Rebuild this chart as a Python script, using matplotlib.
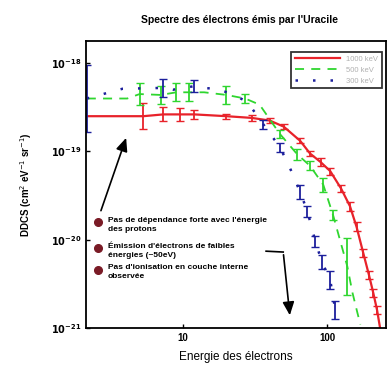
import matplotlib
matplotlib.use("Agg")
import matplotlib.pyplot as plt
import numpy as np

plt.rcParams["font.family"] = ["Liberation Sans", "DejaVu Sans"]

# --- data (energy in eV, DDCS in cm2/eV/sr) ---
e_red = [2.15, 5.3, 7.3, 9.5, 12, 20, 30, 40, 50, 65, 76, 90, 105, 125, 144, 160, 178, 195, 209, 222, 233]
y_red = [2.51e-19, 2.51e-19, 2.63e-19, 2.63e-19, 2.63e-19, 2.51e-19, 2.40e-19, 2.24e-19, 1.91e-19,
         1.32e-19, 9.5e-20, 7.6e-20, 6.0e-20, 3.8e-20, 2.4e-20, 1.4e-20, 7.1e-21, 4.0e-21,
         2.5e-21, 1.6e-21, 1.0e-21]
err_red = [0, 0.15, 0.08, 0.07, 0.05, 0.03, 0.03, 0.03, 0.03, 0.03, 0.03, 0.04, 0.04, 0.04,
           0.05, 0.05, 0.05, 0.05, 0.05, 0.05, 0]

e_green = [2.15, 4.1, 5.0, 7.0, 9.0, 11, 14, 20, 27, 34, 47, 62, 76, 94, 110, 138, 150, 162, 170]
y_green = [3.98e-19, 3.98e-19, 4.47e-19, 4.37e-19, 4.68e-19, 4.68e-19, 4.68e-19, 4.37e-19,
           3.98e-19, 3.39e-19, 1.58e-19, 9.3e-20, 6.9e-20, 4.2e-20, 1.9e-20, 5.0e-21,
           2.5e-21, 1.5e-21, 1.1e-21]
err_green = [0, 0, 0.12, 0.1, 0.1, 0.1, 0, 0.1, 0.05, 0, 0.05, 0.06, 0.05, 0.08, 0.06, 0.32, 0, 0, 0]

e_blue = [2.15, 3.8, 7.3, 8.5, 12, 13.5, 17, 22, 28, 36, 47, 55, 65, 73, 83, 92, 105, 114]
y_blue = [3.98e-19, 5.13e-19, 5.25e-19, 5.0e-19, 5.5e-19, 5.25e-19, 5.13e-19, 4.47e-19,
          3.63e-19, 2.04e-19, 1.12e-19, 6.6e-20, 3.47e-20, 2.09e-20, 9.5e-21, 5.6e-21,
          3.5e-21, 1.6e-21]
err_blue = [0.38, 0, 0.1, 0, 0.07, 0, 0, 0, 0, 0.05, 0.05, 0, 0.08, 0.06, 0.06, 0.08, 0.1, 0.1]

labels = ["1000 keV", "500 keV", "300 keV"]
colors = ["#e8222a", "#2fd62f", "#1c1f9c"]

yticks = [1e-21, 1e-20, 1e-19, 1e-18]
ytick_labels = [r"$\mathbf{10^{-21}}$", r"$\mathbf{10^{-20}}$", r"$\mathbf{10^{-19}}$", r"$\mathbf{10^{-18}}$"]
xticks = [10, 100]
xtick_labels = ["10", "100"]

notes = [
    "Pas de dépendance forte avec l'énergie\ndes protons",
    "Émission d'électrons de faibles\nénergies (~50eV)",
    "Pas d'ionisation en couche interne\nobservée",
]

fig = plt.figure(figsize=(3.87, 3.67), dpi=100)
ax = fig.add_axes([0.222, 0.106, 0.776, 0.782])
ax.set_xscale("log")
ax.set_yscale("log")

styles = [dict(ls="-", lw=1.6), dict(ls=(0, (5, 4)), lw=1.3), dict(ls=(0, (1, 6)), lw=1.8)]
series = [(e_red, y_red, err_red), (e_green, y_green, err_green), (e_blue, y_blue, err_blue)]
for (e, y, err), c, st, lab in zip(series, colors, styles, labels):
    e = np.array(e)
    y = np.array(y)
    err = np.array(err)
    ax.plot(e, y, color=c, label=lab, **st)
    m = err > 0
    lo = y[m] - y[m] * 10 ** (-err[m])
    hi = y[m] * 10 ** (err[m]) - y[m]
    ax.errorbar(e[m], y[m], yerr=[lo, hi], fmt="none", ecolor=c, elinewidth=1.3, capsize=3)

ax.set_xlim(2.12, 257)
ax.set_ylim(1e-21, 10 ** -17.75)
ax.set_xticks(xticks)
ax.set_xticklabels(xtick_labels, fontsize=7, fontweight="bold")
ax.set_yticks(yticks)
ax.set_yticklabels(ytick_labels, fontsize=7)
ax.minorticks_off()
ax.tick_params(direction="in", length=3, width=1)
for s in ax.spines.values():
    s.set_linewidth(1.3)

ax.set_xlabel("Energie des électrons", fontsize=8.5, labelpad=6)
ax.set_ylabel(r"DDCS (cm$^{2}$ eV$^{-1}$ sr$^{-1}$)", fontsize=7, fontweight="bold", labelpad=12)
fig.text(0.618, 0.945, "Spectre des électrons émis par l'Uracile", ha="center", va="center",
         fontsize=7.5, fontweight="bold")

leg = ax.legend(loc="upper right", bbox_to_anchor=(0.997, 0.975), fontsize=5.5, frameon=True,
                fancybox=False, handlelength=6, borderpad=0.4, labelspacing=0.5)
leg.get_frame().set_edgecolor("black")
leg.get_frame().set_linewidth(1.3)
for t in leg.get_texts():
    t.set_color("#b0b0b0")

# bullets and notes
note_y = [0.368, 0.278, 0.203]
for yy, txt in zip(note_y, notes):
    ax.plot(0.04, yy, "o", color="#7a1b26", ms=5.5, mec="#7a1b26", transform=ax.transAxes, clip_on=False)
    ax.text(0.073, yy + 0.02, txt, transform=ax.transAxes, fontsize=6, fontweight="bold",
            va="top", ha="left", linespacing=1.4)

ax.annotate("", xy=(0.137, 0.672), xytext=(0.047, 0.40), xycoords="axes fraction",
            arrowprops=dict(arrowstyle="-|>,head_width=0.35,head_length=0.8", color="black", lw=1.2))
ax.plot([0.60, 0.657], [0.268, 0.265], color="black", lw=1.2, transform=ax.transAxes)
ax.annotate("", xy=(0.68, 0.035), xytext=(0.657, 0.265), xycoords="axes fraction",
            arrowprops=dict(arrowstyle="-|>,head_width=0.35,head_length=0.8", color="black", lw=1.2))

fig.savefig("out.png", dpi=100)
